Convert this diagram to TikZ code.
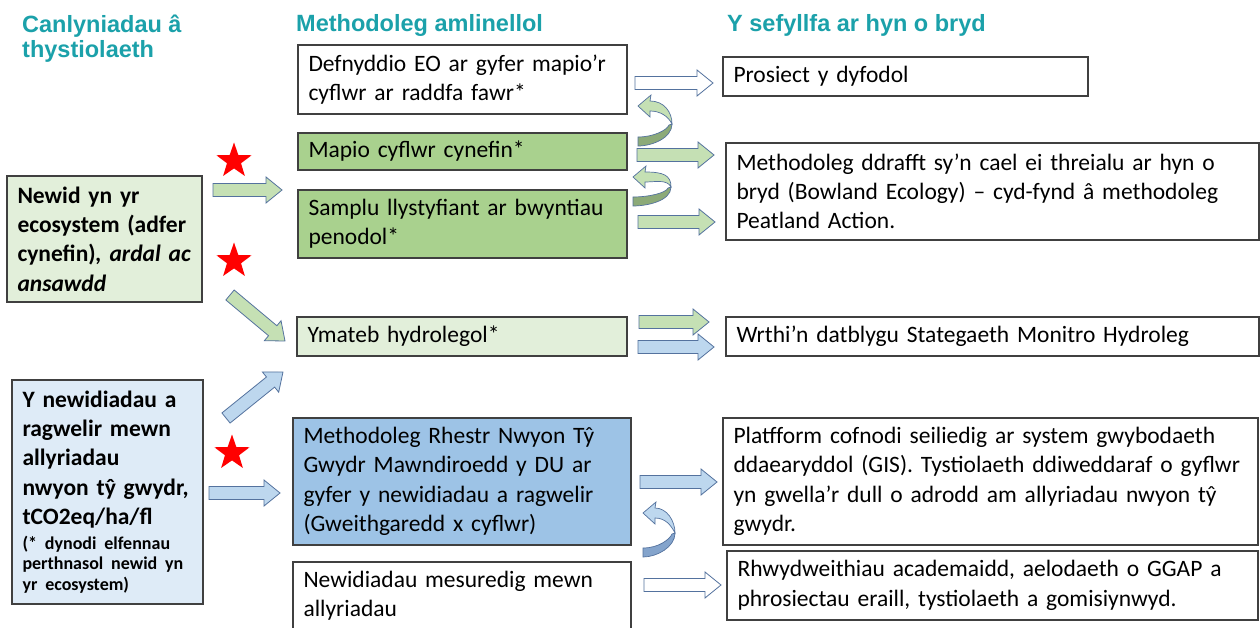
\documentclass[tikz,border=0pt]{standalone}
\usepackage{fontspec}
\setmainfont{Carlito}
\newfontfamily\hdrfont{Liberation Sans}
\usetikzlibrary{calc,shapes.geometric}
\definecolor{teal1}{RGB}{27,161,170}
\definecolor{boxline}{RGB}{64,64,64}
\definecolor{lgreen}{RGB}{226,239,218}
\definecolor{mgreen}{RGB}{169,209,142}
\definecolor{lblue}{RGB}{222,235,247}
\definecolor{mblue}{RGB}{157,195,230}
\definecolor{agreen}{RGB}{197,224,180}
\definecolor{ablue}{RGB}{189,215,238}
\definecolor{aline}{RGB}{84,114,158}
\definecolor{dgreen}{RGB}{140,170,120}
\definecolor{dblue}{RGB}{132,164,204}
\newcommand\bodysize{\fontsize{23.5}{29.3}\selectfont}
\newcommand\smallsz{\fontsize{18}{20.7}\selectfont}
\newcommand\hdrsize{\hdrfont\bfseries\fontsize{23.5}{25}\selectfont}
\newcommand\lne[1]{\mbox{#1}}
\newcommand\blockarrow[3]{%
  \path[#1] let \p1=($(#3)-(#2)$), \n1={atan2(\y1,\x1)}, \n2={veclen(\x1,\y1)} in
    [shift={(#2)}, rotate=\n1] (0pt,-6.5pt) -- ({\n2-16pt},-6.5pt) -- ({\n2-16pt},-13pt) -- ({\n2+0pt},0pt) -- ({\n2-16pt},13pt) -- ({\n2-16pt},6.5pt) -- (0pt,6.5pt) -- cycle;}
\newcommand\curvearrow[7]{%
  \path[draw=aline, line width=0.7pt, fill=#1] ({#3+12},{#4-5}) .. controls ({#5-8},{#4-5}) and ({#5},{#6-12}) .. ({#5},{#6}) .. controls ({#5-4},{#6-8}) and ({#3+22},{#4+5}) .. ({#3+12},{#4+5}) -- ({#3+12},{#4+11}) -- ({#3},{#4}) -- ({#3+13},{#4-11}) -- cycle;
  \path[draw=aline, line width=0.7pt, fill=#2] ({#5},{#6}) .. controls ({#5},{#6+14}) and ({#3+14},{#7+5}) .. ({#3},{#7+5}) -- ({#3},{#7-4}) .. controls ({#3+16},{#7-4}) and ({#5-5},{#6+6}) .. ({#5-3},{#6+1}) -- cycle;}
\begin{document}
\begin{tikzpicture}[x=1pt,y=-1pt,
 box/.style={draw=boxline, line width=1.2pt, anchor=north west, inner xsep=10.5pt, inner ysep=0pt, outer sep=0pt, align=left, font=\bodysize},
 hdr/.style={inner sep=0pt, text=teal1, font=\hdrsize, align=left},
 arw/.style={draw=aline, line width=0.8pt, line join=miter},
 garw/.style={arw, fill=agreen},
 barw/.style={arw, fill=ablue},
 warw/.style={arw, fill=white},
 redstar/.style={star, star points=5, star point ratio=2.5, fill=red, inner sep=0pt, minimum size=37pt}]
\fill[white] (0,0) rectangle (1260,628);
\useasboundingbox (0,0) rectangle (1260,628);
% headers
\node[hdr, anchor=north west] (h1) at (22,15) {Canlyniadau â\\thystiolaeth};
\node[hdr, anchor=base west] (h2) at (296,32) {Methodoleg amlinellol};
\node[hdr, anchor=base west] (h3) at (727,32) {Y sefyllfa ar hyn o bryd};
% left column
\node[box, fill=lgreen, font=\bodysize\bfseries, minimum width=195pt, minimum height=126pt, text width=174pt] (l1) at (7,176)
 {\lne{Newid yn yr}\\\lne{ecosystem (adfer}\\\lne{cynefin)\textit{, ardal ac}}\\\lne{\textit{ansawdd}}};
\node[box, fill=lblue, font=\bodysize\bfseries, minimum width=191pt, minimum height=224pt, text width=170pt] (l2) at (12,380)
 {\lne{Y newidiadau a}\\\lne{ragwelir mewn}\\\lne{allyriadau}\\\lne{nwyon tŷ gwydr,}\\\lne{tCO2eq/ha/fl}\par\vspace{4pt}\smallsz\lne{(* dynodi elfennau}\\\lne{perthnasol newid yn}\\\lne{yr ecosystem)}\par};
% middle column
\node[box, fill=white, minimum width=329pt, minimum height=69pt, text width=308pt] (m1) at (298,45) {\lne{Defnyddio EO ar gyfer mapio’r}\\\lne{cyflwr ar raddfa fawr*}};
\node[box, fill=mgreen, minimum width=329pt, minimum height=37pt, text width=308pt] (m2) at (298,133) {\lne{Mapio cyflwr cynefin*}};
\node[box, fill=mgreen, minimum width=329pt, minimum height=68pt, text width=308pt] (m3) at (298,190) {\lne{Samplu llystyfiant ar bwyntiau}\\\lne{penodol*}};
\node[box, fill=lgreen, minimum width=330pt, minimum height=39pt, text width=309pt] (m4) at (297,317) {\lne{Ymateb hydrolegol*}};
\node[box, fill=mblue, minimum width=338pt, minimum height=127pt, text width=317pt] (m5) at (293,418) {\lne{Methodoleg Rhestr Nwyon Tŷ}\\\lne{Gwydr Mawndiroedd y DU ar}\\\lne{gyfer y newidiadau a ragwelir}\\\lne{(Gweithgaredd x cyflwr)}};
\node[box, fill=white, minimum width=338pt, minimum height=68pt, text width=317pt] (m6) at (293,562) {\lne{Newidiadau mesuredig mewn}\\\lne{allyriadau}};
% right column
\node[box, fill=white, minimum width=365pt, minimum height=39pt, text width=344pt] (r1) at (723,57) {\lne{Prosiect y dyfodol}};
\node[box, fill=white, minimum width=533pt, minimum height=97pt, text width=512pt] (r2) at (726,143) {\lne{Methodoleg ddrafft sy’n cael ei threialu ar hyn o}\\\lne{bryd (Bowland Ecology) – cyd-fynd â methodoleg}\\\lne{Peatland Action.}};
\node[box, fill=white, minimum width=533pt, minimum height=39pt, text width=512pt] (r3) at (726,317) {\lne{Wrthi’n datblygu Stategaeth Monitro Hydroleg}};
\node[box, fill=white, minimum width=535pt, minimum height=127pt, text width=514pt] (r4) at (723,418) {\lne{Platfform cofnodi seiliedig ar system gwybodaeth}\\\lne{ddaearyddol (GIS).\ Tystiolaeth ddiweddaraf o gyflwr}\\\lne{yn gwella’r dull o adrodd am allyriadau nwyon tŷ}\\\lne{gwydr.}};
\node[box, fill=white, minimum width=531pt, minimum height=69pt, text width=510pt] (r5) at (727,551) {\lne{Rhwydweithiau academaidd, aelodaeth o GGAP a}\\\lne{phrosiectau eraill, tystiolaeth a gomisiynwyd.}};
% arrow end points
\coordinate (a1s) at (635,83);  \coordinate (a1e) at (713,83);
\coordinate (a2s) at (637,155); \coordinate (a2e) at (714,155);
\coordinate (a3s) at (638,222); \coordinate (a3e) at (715,222);
\coordinate (a4s) at (639,322); \coordinate (a4e) at (709,322);
\coordinate (a5s) at (638,347); \coordinate (a5e) at (714,347);
\coordinate (a6s) at (640,482); \coordinate (a6e) at (717,482);
\coordinate (a7s) at (644,585); \coordinate (a7e) at (721,585);
\coordinate (a8s) at (213,190); \coordinate (a8e) at (282,190);
\coordinate (a9s) at (230,295); \coordinate (a9e) at (285,341);
\coordinate (a10s) at (226,418); \coordinate (a10e) at (283,372);
\coordinate (a11s) at (209,493); \coordinate (a11e) at (280,493);
\blockarrow{warw}{a1s}{a1e}
\blockarrow{garw}{a2s}{a2e}
\blockarrow{garw}{a3s}{a3e}
\blockarrow{garw}{a4s}{a4e}
\blockarrow{barw}{a5s}{a5e}
\blockarrow{barw}{a6s}{a6e}
\blockarrow{warw}{a7s}{a7e}
\blockarrow{garw}{a8s}{a8e}
\blockarrow{garw}{a9s}{a9e}
\blockarrow{barw}{a10s}{a10e}
\blockarrow{barw}{a11s}{a11e}
% curved arrows
\curvearrow{agreen}{dgreen}{638}{106}{672}{124}{141}
\curvearrow{agreen}{dgreen}{633}{177}{671}{187}{201}
\curvearrow{ablue}{dblue}{643}{513}{675}{533}{552}
% stars
\node[redstar] (s1) at (234,161) {};
\node[redstar] (s2) at (234,261) {};
\node[redstar] (s3) at (232,453) {};
\end{tikzpicture}
\end{document}
